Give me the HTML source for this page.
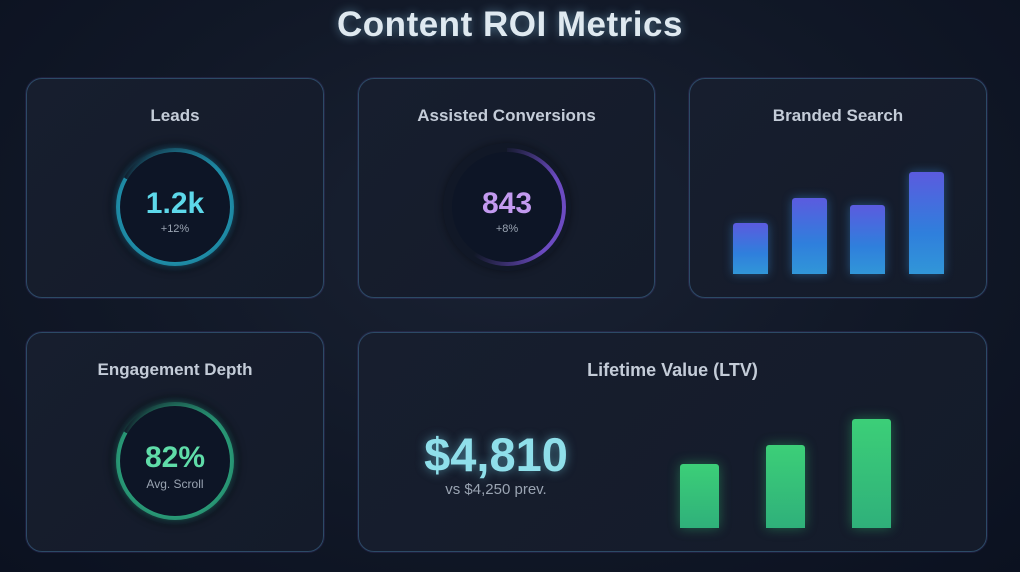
<!DOCTYPE html>
<html><head><meta charset="utf-8"><style>
*{box-sizing:border-box;margin:0;padding:0}
body{width:1020px;height:572px;overflow:hidden;background:radial-gradient(ellipse at 50% 40%,#1a2233 0%,#111827 55%,#0b1120 100%);font-family:"Liberation Sans",sans-serif;position:relative}
h1{position:absolute;top:5px;left:0;width:1020px;text-align:center;font-size:35px;font-weight:bold;color:#dfe9f0;text-shadow:0 0 10px rgba(150,220,255,.45);letter-spacing:.5px}
.card{position:absolute;border-radius:16px;background:linear-gradient(135deg,#171e2e,#141b2a);border:1.5px solid #2c4a66;box-shadow:0 0 0 1px rgba(120,90,200,.15)}
.card h2{position:absolute;top:27px;left:0;width:100%;text-align:center;font-size:17px;font-weight:bold;color:#c4ccd8}
.ringbase{position:absolute;width:128px;height:128px;border-radius:50%;background:#111827;box-shadow:0 0 8px rgba(0,0,0,.4)}
.ring{position:absolute;left:5px;top:5px;width:118px;height:118px;border-radius:50%}
.inner{position:absolute;left:9px;top:9px;width:110px;height:110px;border-radius:50%;background:#0d1526;text-align:center}
.big{font-size:30px;font-weight:bold;margin-top:36px;line-height:32px}
.sub{font-size:11px;color:#9aa4b2;margin-top:3px}
.bar{position:absolute;border-radius:3px 3px 0 0}
</style></head><body>
<h1>Content ROI Metrics</h1>

<div class="card" style="left:26px;top:78px;width:298px;height:220px">
<h2>Leads</h2>
<div class="ringbase" style="left:84px;top:64px">
<div class="ring" style="background:conic-gradient(from 300deg,rgba(34,190,220,0) 0deg,rgba(34,170,200,.75) 110deg,rgba(34,170,200,.75) 360deg);box-shadow:0 0 8px rgba(40,190,220,.3)"></div>
<div class="inner" style="box-shadow:0 0 6px rgba(40,190,220,.35)"><div class="big" style="color:#5dd8ea">1.2k</div><div class="sub">+12%</div></div>
</div></div>

<div class="card" style="left:358px;top:78px;width:297px;height:220px">
<h2>Assisted Conversions</h2>
<div class="ringbase" style="left:84px;top:64px">
<div class="ring" style="background:conic-gradient(from 0deg,rgba(139,92,246,.05) 0deg,rgba(139,92,246,.75) 60deg,rgba(139,92,246,.75) 140deg,rgba(139,92,246,0) 215deg,rgba(0,0,0,0) 360deg)"></div>
<div class="inner"><div class="big" style="color:#c39af0">843</div><div class="sub">+8%</div></div>
</div></div>

<div class="card" id="bs" style="left:689px;top:78px;width:298px;height:220px">
<h2>Branded Search</h2>
</div>

<div class="card" style="left:26px;top:332px;width:298px;height:220px">
<h2>Engagement Depth</h2>
<div class="ringbase" style="left:84px;top:64px">
<div class="ring" style="background:conic-gradient(from 300deg,rgba(52,211,153,0) 0deg,rgba(47,184,138,.75) 110deg,rgba(47,184,138,.75) 360deg);box-shadow:0 0 8px rgba(52,211,153,.3)"></div>
<div class="inner" style="box-shadow:0 0 6px rgba(52,211,153,.35)"><div class="big" style="color:#5fdca8">82%</div><div class="sub" style="font-size:12px">Avg. Scroll</div></div>
</div></div>

<div class="card" id="ltv" style="left:358px;top:332px;width:629px;height:220px">
<h2 style="font-size:18px">Lifetime Value (LTV)</h2>
<div style="position:absolute;left:0;top:94px;width:274px;text-align:center;font-size:47px;font-weight:bold;color:#8fdfea;text-shadow:0 0 10px rgba(120,220,240,.5)">$4,810</div>
<div style="position:absolute;left:0;top:148px;width:274px;text-align:center;font-size:15px;color:#9aa4b2">vs $4,250 prev.</div>
</div>

<script>
const brandedCategories=["P1","P2","P3","P4"];
const brandedValues=[50,75,68,100];
const ltvCategories=["Y1","Y2","Y3"];
const ltvValues=[64,83,109];

function yScale(v,max,px){return v/max*px;}
const bs=document.getElementById('bs');
const bMax=Math.max(...brandedValues);
brandedValues.forEach((v,i)=>{
  const h=yScale(v,bMax,102);
  const d=document.createElement('div');
  d.className='bar';
  
  
  d.style.left=(43+i*58.5)+'px';d.style.width='35px';
  d.style.top=(195-h)+'px';d.style.height=h+'px';
  d.style.background='linear-gradient(180deg,#5b5bdf,#2f7fdc 60%,#3196d8)';
  d.style.boxShadow='0 0 10px rgba(60,150,230,.45)';
  bs.appendChild(d);
});
const lt=document.getElementById('ltv');
const lMax=Math.max(...ltvValues);
ltvValues.forEach((v,i)=>{
  const h=yScale(v,lMax,109);
  const d=document.createElement('div');
  d.className='bar';
  
  
  d.style.left=(321+i*86)+'px';d.style.width='39px';
  d.style.top=(195-h)+'px';d.style.height=h+'px';
  d.style.background='linear-gradient(180deg,#3ccf78,#2fb07a)';
  d.style.boxShadow='0 0 12px rgba(52,211,120,.4)';
  lt.appendChild(d);
});
</script>
</body></html>
